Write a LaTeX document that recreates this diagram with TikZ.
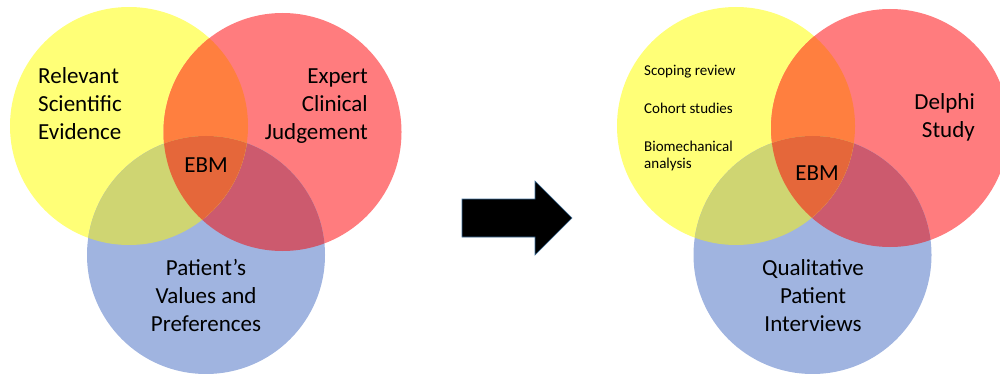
\documentclass[tikz,border=0pt]{standalone}
\usepackage{fontspec}
\setmainfont{Carlito}
\definecolor{cY}{HTML}{FFFF77}
\definecolor{cR}{HTML}{FF7C7E}
\definecolor{cB}{HTML}{A0B4E0}
\definecolor{cYR}{HTML}{FF7F3F}
\definecolor{cYB}{HTML}{CFD572}
\definecolor{cRB}{HTML}{CC5A6E}
\definecolor{cC}{HTML}{E5673A}
\definecolor{arrowline}{HTML}{41719C}
\tikzset{
  big/.style={font=\fontsize{23}{28}\selectfont, inner sep=0pt, text=black},
  small/.style={font=\fontsize{15}{18}\selectfont, inner sep=0pt, text=black},
}
\begin{document}
\begin{tikzpicture}[x=1pt,y=-1pt]
\useasboundingbox (0,0) rectangle (1000,374);
\clip (0,0) rectangle (1000,374);
% ---------- left Venn ----------
\coordinate (LY) at (129,126);
\coordinate (LR) at (282.5,132);
\coordinate (LB) at (206,255);
\fill[cY] (LY) circle[radius=119pt];
\fill[cR] (LR) circle[radius=119pt];
\fill[cB] (LB) circle[radius=119pt];
\begin{scope}
  \clip (LR) circle[radius=119pt];
  \fill[cRB] (LB) circle[radius=119pt];
\end{scope}
\begin{scope}
  \clip (LY) circle[radius=119pt];
  \fill[cYR] (LR) circle[radius=119pt];
  \fill[cYB] (LB) circle[radius=119pt];
  \clip (LR) circle[radius=119pt];
  \fill[cC] (LB) circle[radius=119pt];
\end{scope}
% ---------- right Venn ----------
\coordinate (RY) at (736,126);
\coordinate (RR) at (890,128);
\coordinate (RB) at (812.5,255);
\fill[cY] (RY) circle[radius=119pt];
\fill[cR] (RR) circle[radius=119pt];
\fill[cB] (RB) circle[radius=119pt];
\begin{scope}
  \clip (RR) circle[radius=119pt];
  \fill[cRB] (RB) circle[radius=119pt];
\end{scope}
\begin{scope}
  \clip (RY) circle[radius=119pt];
  \fill[cYR] (RR) circle[radius=119pt];
  \fill[cYB] (RB) circle[radius=119pt];
  \clip (RR) circle[radius=119pt];
  \fill[cC] (RB) circle[radius=119pt];
\end{scope}
% ---------- arrow ----------
\draw[fill=black, draw=arrowline, line width=0.6pt]
  (462,199) -- (535,199) -- (535,181) -- (572,218) -- (535,255) -- (535,237) -- (462,237) -- cycle;
% ---------- left texts ----------
\node[big, anchor=base west] (l1) at (38,84) {Relevant};
\node[big, anchor=base west] (l2) at (38,112) {Scientific};
\node[big, anchor=base west] (l3) at (38,140) {Evidence};
\node[big, anchor=base east] (e1) at (368,84) {Expert};
\node[big, anchor=base east] (e2) at (368,112) {Clinical};
\node[big, anchor=base east] (e3) at (368,140) {Judgement};
\node[big, anchor=base] (ebmL) at (206,172) {EBM};
\node[big, anchor=base] (p1) at (206,275) {Patient’s};
\node[big, anchor=base] (p2) at (206,303) {Values and};
\node[big, anchor=base] (p3) at (206,331) {Preferences};
% ---------- right texts ----------
\node[small, anchor=base west] (s1) at (644,76) {Scoping review};
\node[small, anchor=base west] (s2) at (644,114) {Cohort studies};
\node[small, anchor=base west] (s3) at (644,152) {Biomechanical};
\node[small, anchor=base west] (s4) at (644,168) {analysis};
\node[big, anchor=base east] (d1) at (975,110) {Delphi};
\node[big, anchor=base east] (d2) at (975,138) {Study};
\node[big, anchor=base] (ebmR) at (817,180) {EBM};
\node[big, anchor=base] (q1) at (813,275) {Qualitative};
\node[big, anchor=base] (q2) at (813,303) {Patient};
\node[big, anchor=base] (q3) at (813,331) {Interviews};
\end{tikzpicture}
\end{document}
